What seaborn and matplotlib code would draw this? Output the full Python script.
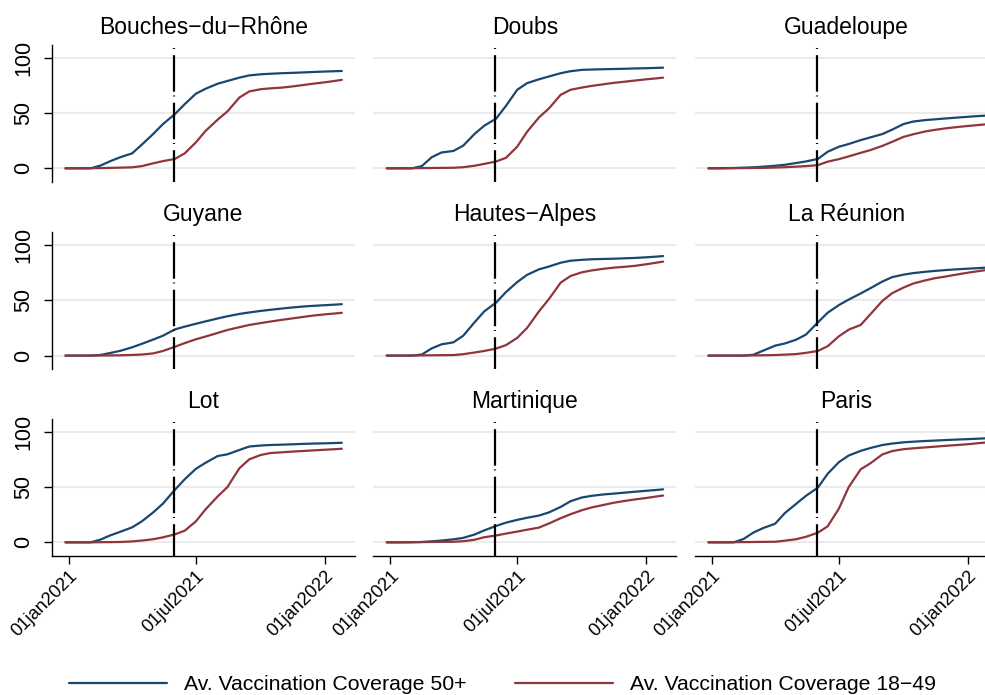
import numpy as np
import pandas as pd
import matplotlib
matplotlib.use("Agg")
import matplotlib.pyplot as plt
import seaborn as sns
from matplotlib.lines import Line2D

# ---------------- data ----------------
dates = ["2020-12-27", "2021-01-15", "2021-02-01", "2021-02-15", "2021-03-01", "2021-03-15",
         "2021-04-01", "2021-04-15", "2021-05-01", "2021-05-15", "2021-06-01", "2021-06-15",
         "2021-07-01", "2021-07-15", "2021-08-01", "2021-08-15", "2021-09-01", "2021-09-15",
         "2021-10-01", "2021-10-15", "2021-11-01", "2021-11-15", "2021-12-01", "2021-12-15",
         "2022-01-01", "2022-01-15", "2022-01-25"]

departments = ["Bouches\u2212du\u2212Rhône", "Doubs", "Guadeloupe",
               "Guyane", "Hautes\u2212Alpes", "La Réunion",
               "Lot", "Martinique", "Paris"]

series_labels = ["Av. Vaccination Coverage 50+", "Av. Vaccination Coverage 18\u221249"]

bouches_50 = [0, 0, 0, 2.5, 6.5, 10, 13.5, 21.5, 31, 40, 49, 58, 67.5, 72, 76.5, 79, 82, 84, 85, 85.5, 86, 86.3, 86.7, 87.1, 87.5, 87.8, 88]
bouches_18 = [0, 0, 0.1, 0.2, 0.4, 0.6, 0.9, 2, 4.5, 6.5, 8.5, 13.5, 23.5, 34, 44, 51.5, 64, 69.5, 71.5, 72.3, 73, 74, 75.3, 76.5, 77.8, 79, 80]
doubs_50 = [0, 0, 0, 2, 10, 14.3, 15.7, 20.5, 31, 38.5, 45, 56.5, 71, 77, 80.5, 83, 86, 87.8, 89, 89.3, 89.6, 89.8, 90, 90.3, 90.5, 90.8, 91]
doubs_18 = [0, 0, 0.1, 0.2, 0.3, 0.4, 0.5, 1, 2.3, 4, 6.2, 9.5, 19.6, 33, 46, 54, 66.5, 71, 73, 74.5, 76, 77.2, 78.3, 79.3, 80.5, 81.3, 82]
guadeloupe_50 = [0, 0.1, 0.3, 0.6, 0.9, 1.5, 2.3, 3.2, 4.8, 6.2, 8.5, 15, 19.5, 22, 25.5, 28, 31, 35, 40, 42.3, 43.6, 44.3, 45.1, 45.8, 46.6, 47.2, 47.6]
guadeloupe_18 = [0, 0, 0.1, 0.2, 0.3, 0.4, 0.7, 1, 1.5, 2, 2.9, 6, 8.3, 10.8, 14, 16.5, 20.3, 24, 28.4, 30.8, 33.3, 34.8, 36.2, 37.2, 38.3, 39.1, 39.7]
guyane_50 = [0, 0, 0, 0.6, 2.4, 4.3, 7.5, 10.7, 14.5, 18, 23.7, 26.2, 28.8, 31, 33.6, 35.6, 37.7, 39, 40.4, 41.4, 42.6, 43.5, 44.4, 45, 45.6, 46.1, 46.5]
guyane_18 = [0, 0, 0.1, 0.1, 0.2, 0.3, 0.6, 1, 2, 4.2, 8, 11.3, 14.8, 17.3, 20.5, 23.2, 25.7, 27.7, 29.4, 30.8, 32.4, 33.6, 35, 36.2, 37.3, 38.1, 38.7]
hautes_alpes_50 = [0, 0, 0, 1, 6.5, 10.2, 12, 18, 30, 40, 48, 57.5, 66.5, 73, 78, 80.5, 84, 85.8, 86.6, 87.1, 87.4, 87.6, 88, 88.3, 88.9, 89.5, 90]
hautes_alpes_18 = [0, 0, 0.1, 0.2, 0.3, 0.4, 0.5, 1.3, 2.8, 4.2, 6.4, 9.5, 16, 25, 40, 51, 66, 72, 75.3, 77, 78.5, 79.5, 80.3, 81.1, 82.6, 84, 85]
reunion_50 = [0, 0, 0, 0, 0.8, 4.5, 9, 11, 14.4, 19, 30, 38.8, 45.7, 50.7, 56.2, 61, 67, 71, 73.2, 74.6, 75.8, 76.6, 77.4, 78, 78.6, 79.1, 79.5]
reunion_18 = [0, 0, 0, 0.1, 0.2, 0.3, 0.5, 0.9, 1.4, 2.5, 4.2, 8.5, 17.5, 23.5, 27.7, 37.5, 49.5, 56.5, 61.5, 65.2, 68, 70, 71.6, 73.2, 75, 76.3, 77.2]
lot_50 = [0, 0, 0, 2.5, 6.3, 9.5, 13.5, 19, 27, 35, 47.5, 57, 66.5, 72, 78, 79.6, 83.5, 86.6, 87.5, 88, 88.3, 88.6, 89, 89.3, 89.5, 89.8, 90]
lot_18 = [0, 0, 0, 0.1, 0.2, 0.3, 0.8, 1.6, 2.8, 4.5, 7.2, 10.5, 19, 30, 41.5, 50, 67, 75, 78.9, 80.7, 81.4, 82, 82.6, 83.1, 83.7, 84.2, 84.6]
martinique_50 = [0, 0, 0.1, 0.3, 0.9, 1.6, 2.7, 4, 7, 10.8, 14.8, 17.8, 20.3, 22.2, 24.2, 27, 32, 37.2, 40.5, 42, 43.3, 44, 44.9, 45.7, 46.6, 47.3, 47.9]
martinique_18 = [0, 0, 0.1, 0.2, 0.3, 0.4, 0.5, 1, 2.3, 4.6, 6.2, 7.9, 9.7, 11.4, 13.3, 17, 21.8, 25.4, 29, 31.5, 33.8, 35.7, 37.4, 38.7, 40.1, 41.4, 42.3]
paris_50 = [0, 0, 0, 3, 8.8, 12.9, 16.8, 26.5, 34.8, 42, 49.5, 62, 72.5, 78.5, 82.7, 85.3, 88, 89.3, 90.4, 91, 91.6, 92, 92.5, 92.9, 93.3, 93.7, 94]
paris_18 = [0, 0, 0.1, 0.2, 0.3, 0.4, 0.5, 1.5, 2.8, 5, 8.7, 14.5, 30.5, 50, 66, 71.5, 79.5, 82.5, 84.2, 85, 85.8, 86.5, 87.3, 87.9, 88.7, 89.6, 90.2]

values_50 = [bouches_50, doubs_50, guadeloupe_50, guyane_50, hautes_alpes_50,
             reunion_50, lot_50, martinique_50, paris_50]
values_18 = [bouches_18, doubs_18, guadeloupe_18, guyane_18, hautes_alpes_18,
             reunion_18, lot_18, martinique_18, paris_18]

event_date = "2021-05-31"
ytick_values = [0, 50, 100]
ytick_labels = ["0", "50", "100"]
xtick_dates = ["2021-01-01", "2021-07-01", "2022-01-01"]
xtick_labels = ["01jan2021", "01jul2021", "01jan2022"]

# ---------------- long table ----------------
rows = []
for dep, v50, v18 in zip(departments, values_50, values_18):
    for d, a, b in zip(dates, v50, v18):
        rows.append((dep, d, a, series_labels[0]))
        rows.append((dep, d, b, series_labels[1]))
df = pd.DataFrame(rows, columns=["dep", "date", "value", "series"])
df["date"] = pd.to_datetime(df["date"])

# ---------------- style ----------------
sns.set_style("white")
plt.rcParams["font.family"] = ["Liberation Sans", "DejaVu Sans"]
plt.rcParams["lines.scale_dashes"] = False
plt.rcParams["text.color"] = "black"
plt.rcParams["axes.titlecolor"] = "black"
plt.rcParams["axes.labelcolor"] = "black"
plt.rcParams["xtick.color"] = "black"
plt.rcParams["ytick.color"] = "black"

BLUE = "#1a476f"
RED = "#90353b"

W, H = 985, 695
fig = plt.figure(figsize=(W / 100, H / 100), dpi=100)

col_left = [52, 373.3, 695]
row_top = [45, 232.3, 419]
aw, ah = 303, 136.7

jan1 = pd.Timestamp("2021-01-01")
x0 = jan1 - pd.Timedelta(days=24.2)
x1 = jan1 + pd.Timedelta(days=407.8)

for i, dep in enumerate(departments):
    r, c = divmod(i, 3)
    ax = fig.add_axes([col_left[c] / W, 1 - (row_top[r] + ah) / H, aw / W, ah / H])
    sub = df[df["dep"] == dep]
    sns.lineplot(data=sub, x="date", y="value", hue="series", hue_order=series_labels,
                 palette=[BLUE, RED], linewidth=1.6, ax=ax, legend=False, zorder=3)
    ax.axvline(pd.Timestamp(event_date), color="black", lw=1.6,
               linestyle=(3.4, (26.3, 4.5, 0.7, 2.7)), zorder=4)
    ax.set_xlim(x0, x1)
    ax.set_ylim(-12.1, 111.5)
    ax.set_yticks(ytick_values)
    ax.set_yticklabels(ytick_labels)
    ax.set_xticks(pd.to_datetime(xtick_dates))
    ax.set_xticklabels(xtick_labels)
    ax.grid(axis="y", color="#ebebeb", lw=1.5)
    ax.grid(axis="x", visible=False)
    ax.set_axisbelow(True)
    ax.set_xlabel("")
    ax.set_ylabel("")
    for s in ["top", "right"]:
        ax.spines[s].set_visible(False)
    ax.spines["left"].set_visible(c == 0)
    ax.spines["bottom"].set_visible(r == 2)
    for s in ["left", "bottom"]:
        ax.spines[s].set_color("black")
        ax.spines[s].set_linewidth(1.0)
    ax.tick_params(axis="y", left=(c == 0), labelleft=(c == 0), length=5.8, width=1,
                   pad=7, labelsize=15.5, labelrotation=90, colors="black")
    ax.tick_params(axis="x", bottom=(r == 2), labelbottom=(r == 2), length=5.8, width=1,
                   pad=3, labelsize=13.2, colors="black")
    for lab in ax.get_yticklabels():
        lab.set_va("center")
    for lab in ax.get_xticklabels():
        lab.set_rotation(45)
        lab.set_ha("right")
        lab.set_va("top")
        lab.set_rotation_mode("anchor")
    ax.set_title(dep, fontsize=16.5, pad=8, color="black")

handles = [Line2D([], [], color=BLUE, lw=1.6), Line2D([], [], color=RED, lw=1.6)]
fig.legend(handles, series_labels, loc="center", bbox_to_anchor=(0.51, 10 / H), ncol=2,
           frameon=False, fontsize=15.3, handlelength=4.6, handletextpad=0.8,
           columnspacing=2.3, labelcolor="black")

fig.savefig("out.png", dpi=100)
